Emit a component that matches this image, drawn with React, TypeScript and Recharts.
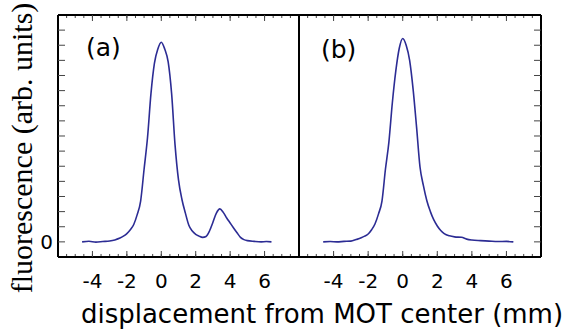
import { LineChart, Line, XAxis, YAxis } from 'recharts';

// panel (a): two clouds, panel (b): one cloud
const posA = [-4.6, -4.2, -3.8, -3.4, -3.0, -2.7, -2.4, -2.2, -2.0, -1.8, -1.6, -1.4, -1.2, -1.0, -0.8, -0.6, -0.4, -0.2, 0.0, 0.2, 0.4, 0.6, 0.8, 1.0, 1.2, 1.4, 1.6, 1.8, 2.0, 2.2, 2.4, 2.6, 2.8, 3.0, 3.2, 3.4, 3.6, 3.8, 4.0, 4.2, 4.4, 4.6, 4.8, 5.0, 5.4, 5.8, 6.1, 6.4];
const fluorA = [0.0, 0.04, -0.02, 0.02, 0.06, 0.13, 0.25, 0.38, 0.55, 0.8, 1.15, 1.8, 2.7, 4.8, 6.9, 9.8, 11.8, 12.75, 13.2, 12.75, 11.9, 9.8, 6.4, 4.1, 2.8, 1.9, 1.1, 0.72, 0.5, 0.38, 0.3, 0.36, 0.72, 1.3, 1.9, 2.18, 1.95, 1.58, 1.25, 0.92, 0.6, 0.3, 0.15, 0.08, 0.03, 0.0, 0.02, 0.0];

const posB = [-4.6, -4.2, -3.8, -3.4, -3.0, -2.7, -2.4, -2.2, -2.0, -1.8, -1.6, -1.4, -1.2, -1.0, -0.8, -0.6, -0.4, -0.2, 0.0, 0.2, 0.4, 0.6, 0.8, 1.0, 1.2, 1.4, 1.6, 1.8, 2.0, 2.2, 2.4, 2.7, 3.0, 3.4, 3.7, 4.0, 4.5, 5.0, 5.5, 6.0, 6.4];
const fluorB = [0.0, 0.02, 0.0, 0.03, 0.05, 0.15, 0.27, 0.38, 0.52, 0.8, 1.2, 1.85, 2.7, 4.8, 6.6, 9.2, 11.3, 12.8, 13.45, 13.0, 12.0, 10.1, 7.6, 4.95, 3.7, 2.7, 2.0, 1.45, 1.05, 0.75, 0.55, 0.4, 0.33, 0.3, 0.18, 0.12, 0.08, 0.05, 0.02, 0.03, 0.0];

const xLabelTicks = [-4, -2, 0, 2, 4, 6];
const xMajorTicks = [-6, -4, -2, 0, 2, 4, 6, 8];
const xMinorTicks = Array.from({ length: 29 }, (_, i) => -6 + i * 0.5);
const yTicks = [0, 1, 2, 3, 4, 5, 6, 7, 8, 9, 10, 11, 12, 13, 14];
const yLabelTicks = [0];

const dataA = posA.map((x, i) => ({ x, y: fluorA[i] }));
const dataB = posB.map((x, i) => ({ x, y: fluorB[i] }));

const sans = '"DejaVu Sans", sans-serif';
const frame = { stroke: '#000', strokeWidth: 2 };
const tickStroke = { stroke: '#444', strokeWidth: 1 };
const xDomain = [-6, 8];
const yDomain = [-1, 15];
const lineColor = '#2c2c94';
const thin = 0.01; // axes need a non-zero size to be drawn
const noText = () => '';

function xAxes() {
  const common = { type: 'number' as const, dataKey: 'x', domain: xDomain, allowDataOverflow: true, interval: 0 as const, height: thin };
  return [
    <XAxis key="bmin" xAxisId="bmin" {...common} ticks={xMinorTicks} mirror tickFormatter={noText} tickSize={3} tickLine={tickStroke} axisLine={false} />,
    <XAxis key="bmaj" xAxisId="bmaj" {...common} ticks={xMajorTicks} mirror tickFormatter={noText} tickSize={6} tickLine={tickStroke} axisLine={frame} />,
    <XAxis key="blab" xAxisId="blab" {...common} ticks={xLabelTicks} tickLine={false} axisLine={false} tickSize={0} tickMargin={17}
      tick={{ fontSize: 20, fill: '#000', fontFamily: sans }} />,
    <XAxis key="tmin" xAxisId="tmin" orientation="top" {...common} ticks={xMinorTicks} mirror tickFormatter={noText} tickSize={3} tickLine={tickStroke} axisLine={false} />,
    <XAxis key="tmaj" xAxisId="tmaj" orientation="top" {...common} ticks={xMajorTicks} mirror tickFormatter={noText} tickSize={6} tickLine={tickStroke} axisLine={frame} />,
  ];
}

function PanelA() {
  return (
    <LineChart width={300} height={334} data={dataA} margin={{ top: 15, left: 58, right: 1, bottom: 77 }}>
      {xAxes()}
      <YAxis yAxisId="tick" type="number" domain={yDomain} allowDataOverflow ticks={yTicks} interval={0} mirror tickFormatter={noText}
        tickSize={7} tickLine={tickStroke} axisLine={frame} width={thin} />
      <YAxis yAxisId="lab" type="number" domain={yDomain} allowDataOverflow ticks={yLabelTicks} interval={0} tickLine={false}
        axisLine={false} tickSize={0} tickMargin={5} width={thin} tick={{ fontSize: 20, fill: '#000', fontFamily: sans }} />
      <Line xAxisId="blab" yAxisId="tick" type="monotone" dataKey="y" stroke={lineColor} strokeWidth={1.6} dot={false} isAnimationActive={false} />
    </LineChart>
  );
}

function PanelB() {
  return (
    <LineChart width={277} height={334} data={dataB} margin={{ top: 15, left: 2, right: 33, bottom: 77 }}>
      {xAxes()}
      <YAxis yAxisId="div" type="number" domain={yDomain} allowDataOverflow tick={false} tickLine={false} axisLine={frame} width={thin} />
      <YAxis yAxisId="tick" orientation="right" type="number" domain={yDomain} allowDataOverflow ticks={yTicks} interval={0} mirror
        tickFormatter={noText} tickSize={7} tickLine={tickStroke} axisLine={frame} width={thin} />
      <Line xAxisId="blab" yAxisId="tick" type="monotone" dataKey="y" stroke={lineColor} strokeWidth={1.6} dot={false} isAnimationActive={false} />
    </LineChart>
  );
}

export default function App() {
  return (
    <div style={{ position: 'absolute', left: 0, top: 0, width: 574, height: 334, background: '#fff', overflow: 'hidden' }}>
      <div style={{ position: 'absolute', left: 0, top: 0 }}>
        <PanelA />
      </div>
      <div style={{ position: 'absolute', left: 297, top: 0 }}>
        <PanelB />
      </div>
      <div style={{ position: 'absolute', left: 86, top: 35, fontFamily: sans, fontSize: 25, lineHeight: '25px', color: '#000' }}>(a)</div>
      <div style={{ position: 'absolute', left: 321, top: 37, fontFamily: sans, fontSize: 25, lineHeight: '25px', color: '#000' }}>(b)</div>
      <div style={{ position: 'absolute', left: 35, top: 301, width: 574, textAlign: 'center', fontFamily: sans, fontSize: 26, lineHeight: '26px', color: '#000', whiteSpace: 'nowrap' }}>
        displacement from MOT center (mm)
      </div>
      <div style={{ position: 'absolute', left: 22 - 180, top: 148 - 15, width: 360, textAlign: 'center', fontFamily: '"Liberation Serif", serif', fontSize: 30, lineHeight: '30px', color: '#000', transform: 'rotate(-90deg)', whiteSpace: 'nowrap' }}>
        fluorescence (arb. units)
      </div>
    </div>
  );
}
